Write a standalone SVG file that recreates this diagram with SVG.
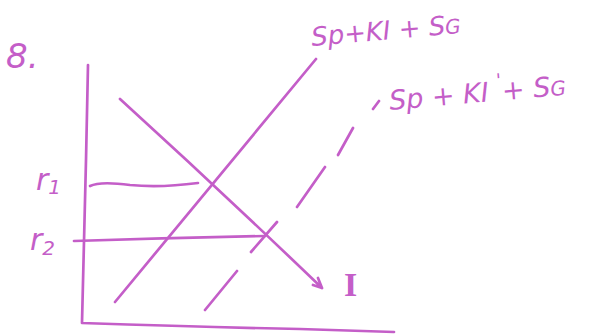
<svg xmlns="http://www.w3.org/2000/svg" width="590" height="335" viewBox="0 0 590 335">
<style>
.ln{fill:none;stroke:#c45ec8;stroke-width:2.7;stroke-linecap:round;stroke-linejoin:round}
.tx{font-family:"DejaVu Sans",sans-serif;font-style:italic;fill:#c45ec8}
</style>
<rect width="590" height="335" fill="#ffffff"/>
<g id="connectors">
<path class="ln" d="M88,65 L86,160 L82,323 Q200,327 300,329 L394,332"/>
<path class="ln" d="M90,186 Q100,181 130,185 Q160,188 198,183"/>
<path class="ln" d="M74,241 Q170,238 265,236"/>
<path class="ln" d="M120,99 Q220,190 322,288 M322,288 L318,278 M322,288 L313,285"/>
<path class="ln" d="M115,302 L316,59"/>
<path class="ln" d="M205,310 L237,271 M251,252 L277,222 M297,207 L325,167 M338,155 L353,128 M373,109 L379,101"/>
</g>
<g id="title"><text class="tx" x="6" y="68" font-size="34">8.</text></g>
<g id="r1"><text class="tx" x="36" y="190" font-size="30">r<tspan font-size="20" dy="4">1</tspan></text></g>
<g id="r2"><text class="tx" x="30" y="250" font-size="30">r<tspan font-size="20" dy="5">2</tspan></text></g>
<g id="label-s1"><text class="tx" x="312" y="46" font-size="26" transform="rotate(-5 312 46)">Sp+KI + S<tspan font-size="20">G</tspan></text></g>
<g id="label-s2"><text class="tx" x="390" y="110" font-size="27" transform="rotate(-5 390 110)">Sp + KI <tspan dy="-14" font-size="18">'</tspan><tspan dy="14">+ S</tspan><tspan font-size="20">G</tspan></text></g>
<g id="label-i"><text x="344" y="296" font-size="34" style="font-family:'Liberation Serif',serif;font-style:normal;font-weight:bold;fill:#c45ec8">I</text></g>
</svg>
